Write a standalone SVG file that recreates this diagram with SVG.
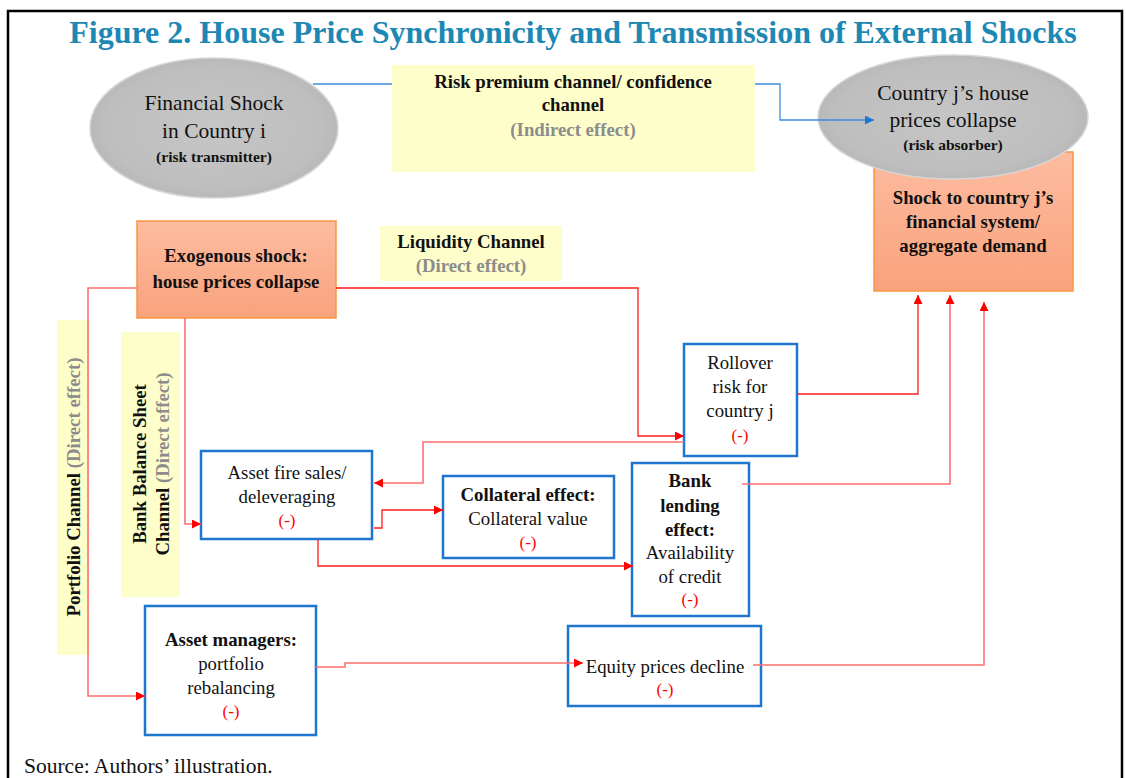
<svg xmlns="http://www.w3.org/2000/svg" width="1126" height="778" viewBox="0 0 1126 778">
<defs>
<style>
text{font-family:"Liberation Serif","Times New Roman",serif;text-anchor:middle;fill:#111}
.b{font-weight:bold;font-size:18.8px}
.r{font-size:18.8px}
.e{font-size:21.5px}
.s{font-weight:bold;font-size:15.5px}
.g{fill:#8C8C8C;font-weight:bold}
.m{fill:#FF0000;font-size:17px}
.node{fill:#fff;stroke:#1F76CF;stroke-width:2.5}
.yel{fill:#FEFECB}
.org{fill:url(#og);stroke:#F79646;stroke-width:1.5}
.ell{fill:url(#eg);stroke:#D6D6D6;stroke-width:1.5}
.red{fill:none;stroke:#FF1A1A;stroke-width:1.3}
.pink{fill:none;stroke:#FF7070;stroke-width:1.6}
.blue{fill:none;stroke:#3B8EDB;stroke-width:1.3}
</style>
<linearGradient id="og" x1="0" y1="0" x2="0" y2="1"><stop offset="0" stop-color="#FDBCA0"/><stop offset="1" stop-color="#F9A27C"/></linearGradient>
<radialGradient id="eg" cx="0.5" cy="0.5" r="0.55"><stop offset="0" stop-color="#C6C6C6"/><stop offset="0.8" stop-color="#BEBEBE"/><stop offset="1" stop-color="#B4B4B4"/></radialGradient>
<marker id="ar" viewBox="0 0 10 10" refX="10" refY="5" markerWidth="10" markerHeight="9" markerUnits="userSpaceOnUse" orient="auto"><path d="M0,0 L10,5 L0,10 z" fill="#FF0000"/></marker>
<marker id="ab" viewBox="0 0 10 10" refX="10" refY="5" markerWidth="10" markerHeight="9" markerUnits="userSpaceOnUse" orient="auto"><path d="M0,0 L10,5 L0,10 z" fill="#1F76CF"/></marker>
</defs>
<rect x="0" y="0" width="1126" height="778" fill="#fff"/>
<path d="M8,790 V11 H1122 V790" fill="none" stroke="#000" stroke-width="2.5"/>
<text x="573" y="43" style="font-weight:bold;font-size:32px;fill:#1E88B5">Figure 2. House Price Synchronicity and Transmission of External Shocks</text>

<g id="shock-j">
<rect class="org" x="874" y="152" width="199" height="139"/>
<text class="b" x="973" y="204">Shock to country j’s</text>
<text class="b" x="973" y="228">financial system/</text>
<text class="b" x="973" y="252">aggregate demand</text>
</g>
<g id="financial-shock-i">
<ellipse class="ell" cx="214" cy="128" rx="124" ry="70"/>
<text class="e" x="214" y="110">Financial Shock</text>
<text class="e" x="214" y="138">in Country i</text>
<text class="s" x="214" y="162">(risk transmitter)</text>
</g>
<g id="house-prices-j">
<ellipse class="ell" cx="953" cy="117" rx="135" ry="62"/>
<text class="e" x="953" y="100">Country j’s house</text>
<text class="e" x="953" y="127">prices collapse</text>
<text class="s" x="953" y="150">(risk absorber)</text>
</g>
<g id="risk-premium">
<rect class="yel" x="392" y="65" width="363" height="107"/>
<text class="b" x="573" y="88">Risk premium channel/ confidence</text>
<text class="b" x="573" y="111">channel</text>
<text class="b g" x="573" y="136">(Indirect effect)</text>
</g>
<g id="exogenous-shock">
<rect class="org" x="137" y="221" width="199" height="97"/>
<text class="b" x="236" y="262">Exogenous shock:</text>
<text class="b" x="236" y="288">house prices collapse</text>
</g>
<g id="liquidity-channel">
<rect class="yel" x="380" y="226" width="182" height="55"/>
<text class="b" x="471" y="248">Liquidity Channel</text>
<text class="b g" x="471" y="272">(Direct effect)</text>
</g>
<g id="portfolio-channel">
<rect class="yel" x="57" y="320" width="33" height="335"/>
<text class="b" transform="translate(80,487) rotate(-90)">Portfolio Channel <tspan class="g">(Direct  effect)</tspan></text>
</g>
<g id="bank-balance-sheet-channel">
<rect class="yel" x="121" y="332" width="59" height="265"/>
<text class="b" transform="translate(146,464) rotate(-90)">Bank Balance Sheet</text>
<text class="b" transform="translate(169,464) rotate(-90)">Channel <tspan class="g">(Direct effect)</tspan></text>
</g>
<g id="rollover-risk">
<rect class="node" x="684" y="344" width="113" height="112"/>
<text class="r" x="740" y="369">Rollover</text>
<text class="r" x="740" y="393">risk for</text>
<text class="r" x="740" y="417">country j</text>
<text class="m" x="740" y="441">(-)</text>
</g>
<g id="asset-fire-sales">
<rect class="node" x="201" y="451" width="171" height="88"/>
<text class="r" x="287" y="479">Asset fire sales/</text>
<text class="r" x="287" y="503">deleveraging</text>
<text class="m" x="287" y="526">(-)</text>
</g>
<g id="collateral-effect">
<rect class="node" x="443" y="476" width="171" height="82"/>
<text class="b" x="528" y="501">Collateral effect:</text>
<text class="r" x="528" y="525">Collateral value</text>
<text class="m" x="528" y="548">(-)</text>
</g>
<g id="bank-lending-effect">
<rect class="node" x="632" y="463" width="117" height="153"/>
<text class="b" x="690" y="487">Bank</text>
<text class="b" x="690" y="512">lending</text>
<text class="b" x="690" y="536">effect:</text>
<text class="r" x="690" y="559">Availability</text>
<text class="r" x="690" y="583">of credit</text>
<text class="m" x="690" y="605">(-)</text>
</g>
<g id="asset-managers">
<rect class="node" x="145" y="606" width="171" height="129"/>
<text class="b" x="231" y="646">Asset managers:</text>
<text class="r" x="231" y="670">portfolio</text>
<text class="r" x="231" y="694">rebalancing</text>
<text class="m" x="231" y="717">(-)</text>
</g>
<g id="equity-prices">
<rect class="node" x="568" y="626" width="193" height="80"/>
<text class="r" x="665" y="673">Equity prices decline</text>
<text class="m" x="665" y="695">(-)</text>
</g>

<g id="connectors">
<path class="blue" d="M313,84 H392"/>
<path class="blue" d="M755,84 H780 V120 H874" marker-end="url(#ab)"/>
<path class="red" d="M336,288 H638 V436 H684" marker-end="url(#ar)"/>
<path class="pink" d="M684,442 H423 V483 H374" marker-end="url(#ar)"/>
<path class="pink" d="M185,318 V524 H201" marker-end="url(#ar)"/>
<path class="red" d="M374,528 H382 V510 H443" marker-end="url(#ar)"/>
<path class="red" d="M318,540 V566 H633" marker-end="url(#ar)"/>
<path class="pink" d="M137,288 H88 V696 H145" marker-end="url(#ar)"/>
<path class="pink" d="M316,667 H345 V663 H583" marker-end="url(#ar)"/>
<path class="red" d="M797,394 H918 V295" marker-end="url(#ar)"/>
<path class="pink" d="M742,484 H950 V295" marker-end="url(#ar)"/>
<path class="pink" d="M753,665 H984 V302" marker-end="url(#ar)"/>
</g>
<text x="24" y="773" style="text-anchor:start;font-size:21.5px">Source: Authors’ illustration.</text>
</svg>
